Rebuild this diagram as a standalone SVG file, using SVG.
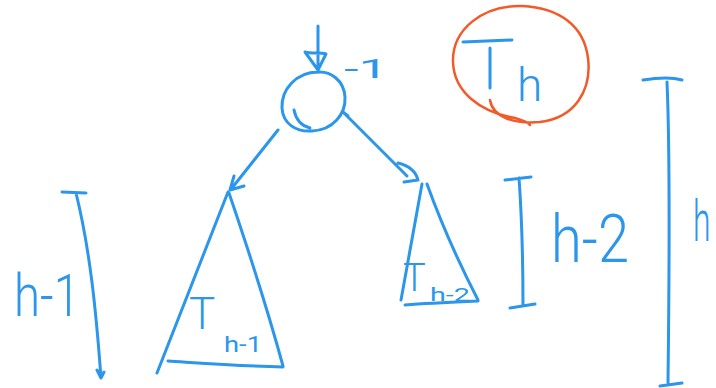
<svg xmlns="http://www.w3.org/2000/svg" width="716" height="388" viewBox="0 0 716 388">
<style>
.s{fill:none;stroke:#2b96ea;stroke-width:3;stroke-linecap:round;stroke-linejoin:round}
.o{fill:none;stroke:#f25a2a;stroke-width:2.5;stroke-linecap:round}
.t{fill:#2b96ea;font-family:Roboto,"Liberation Sans",Arial,sans-serif;font-weight:300}
.m{font-weight:400}
</style>
<rect width="716" height="388" fill="#fff"/>
<g id="root">
<path class="s" d="M318,72 C296,72 281,90 282,108 C283,124 296,132 312,131 C333,130 346,114 345,97 C344,80 330,71 318,72 M294,110 C296,120 302,126 310,128"/>
<text class="t m" x="344" y="78" font-size="26" textLength="44" lengthAdjust="spacingAndGlyphs">-1</text>
</g>
<g id="tree-left">
<path class="s" d="M228,192 L157,373 M229,193 C245,240 265,300 283,366 M168,361 C200,363 240,366 283,367"/>
<text class="t" x="189" y="329" font-size="44">T</text>
<text class="t m" x="224" y="352" font-size="22" textLength="38" lengthAdjust="spacingAndGlyphs">h-1</text>
</g>
<g id="tree-right">
<path class="s" d="M422,184 L401,300 M427,184 C440,220 460,265 478,300 M405,305 C430,303 455,302 478,301"/>
<text class="t" x="403" y="291" font-size="38">T</text>
<text class="t m" x="430" y="301" font-size="19" textLength="40" lengthAdjust="spacingAndGlyphs">h-2</text>
</g>
<g id="th-label">
<path class="o" d="M490,100 C493,118 515,124 540,122 C575,118 592,90 588,58 C584,26 560,8 522,6 C482,5 452,30 453,62 C454,92 480,112 515,118 C522,120 528,122 530,125"/>
<path class="s" d="M463,42 L512,40 M490,48 L490,88"/>
<text class="t" x="517" y="101" font-size="46">h</text>
</g>
<g id="connectors">
<path class="s" d="M318,26 L318,72 M305,52 L318,70 L326,54 C320,52 312,54 305,52"/>
<path class="s" d="M278,130 L232,188 M234,176 L230,190 L244,186"/>
<path class="s" d="M344,113 L407,176 M343,112 L348,116 M398,163 C410,166 416,172 418,180 L404,182"/>
</g>
<g id="dimensions">
<path class="s" d="M62,192 L86,193 M76,193 C90,250 96,310 101,378 M97,370 L101,378 L104,372"/>
<text class="t" x="14" y="316" font-size="60" textLength="66" lengthAdjust="spacingAndGlyphs">h-1</text>
<path class="s" d="M505,180 L531,177 M519,178 C522,220 523,265 523,306 M510,308 L535,304"/>
<text class="t" x="551" y="262" font-size="66" textLength="78" lengthAdjust="spacingAndGlyphs">h-2</text>
<path class="s" d="M643,80 C655,78 672,77 682,80 M667,82 C670,150 669,300 668,383 M660,386 L682,383"/>
<text class="t" transform="translate(693,241) scale(0.55,1)" font-size="58">h</text>
</g>
</svg>
